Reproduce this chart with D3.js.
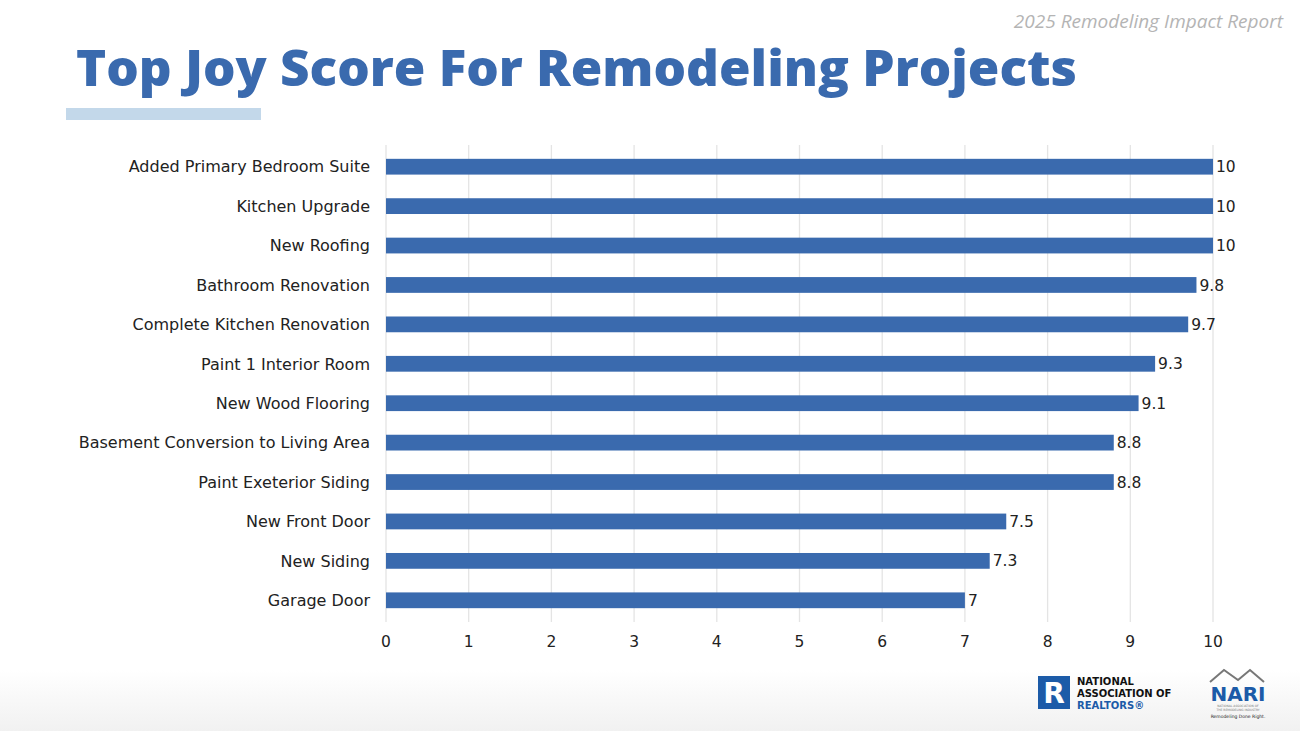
<!DOCTYPE html>
<html>
<head>
<meta charset="utf-8">
<script src="https://cdn.jsdelivr.net/npm/d3@7"></script>
<style>
  body { margin: 0; background: #fff; }
  svg { display: block; font-family: "DejaVu Sans", sans-serif; }
</style>
</head>
<body>
<svg id="chart" width="1300" height="731"></svg>
<script>
var projects = [
  "Added Primary Bedroom Suite",
  "Kitchen Upgrade",
  "New Roofing",
  "Bathroom Renovation",
  "Complete Kitchen Renovation",
  "Paint 1 Interior Room",
  "New Wood Flooring",
  "Basement Conversion to Living Area",
  "Paint Exeterior Siding",
  "New Front Door",
  "New Siding",
  "Garage Door"
];
var joyScores = [10, 10, 10, 9.8, 9.7, 9.3, 9.1, 8.8, 8.8, 7.5, 7.3, 7];
var xTicks = [0, 1, 2, 3, 4, 5, 6, 7, 8, 9, 10];

const barColor = "#3a6aae";
const svg = d3.select("#chart");

// light grey fade at the bottom of the slide
var defs = svg.append("defs");
var fade = defs.append("linearGradient").attr("id", "fade").attr("x1", 0).attr("y1", 0).attr("x2", 0).attr("y2", 1);
fade.append("stop").attr("offset", "0%").attr("stop-color", "#ffffff");
fade.append("stop").attr("offset", "100%").attr("stop-color", "#f1f1f1");
svg.append("rect").attr("x", 0).attr("y", 670).attr("width", 1300).attr("height", 61).style("fill", "url(#fade)");

// header
svg.append("text")
  .attr("x", 1283).attr("y", 28)
  .attr("text-anchor", "end")
  .style("font-family", "'Open Sans', sans-serif")
  .style("font-size", "19px").style("font-style", "italic").style("fill", "#b4b4b4")
  .text("2025 Remodeling Impact Report");

svg.append("text")
  .attr("x", 76).attr("y", 86)
  .attr("textLength", 1001).attr("lengthAdjust", "spacingAndGlyphs")
  .style("font-family", "'Open Sans', sans-serif")
  .style("font-size", "50px").style("font-weight", 800).style("fill", "#3a6aae")
  .text("Top Joy Score For Remodeling Projects");

svg.append("rect").attr("x", 66).attr("y", 108).attr("width", 195).attr("height", 12).style("fill", "#c3d8ea");

// scales
const x = d3.scaleLinear().domain([0, 10]).range([386, 1213]);
const y = d3.scaleBand().domain(projects).range([147, 620]).paddingInner(0.6).paddingOuter(0.3);

// gridlines
svg.append("g")
  .selectAll("line")
  .data(xTicks)
  .enter().append("line")
  .attr("x1", d => x(d)).attr("x2", d => x(d))
  .attr("y1", 145).attr("y2", 622)
  .style("stroke", "#e4e4e4").style("stroke-width", 1.3);

// bars
svg.append("g")
  .selectAll("rect")
  .data(projects)
  .enter().append("rect")
  .attr("x", x(0))
  .attr("y", d => y(d))
  .attr("width", (d, i) => x(joyScores[i]) - x(0))
  .attr("height", y.bandwidth())
  .style("fill", barColor);

// value labels
svg.append("g")
  .selectAll("text")
  .data(projects)
  .enter().append("text")
  .attr("x", (d, i) => x(joyScores[i]) + 3)
  .attr("y", d => y(d) + y.bandwidth() / 2)
  .attr("dy", "0.36em")
  .style("font-size", "15.5px").style("fill", "#222")
  .text((d, i) => joyScores[i]);

// category labels
svg.append("g")
  .selectAll("text")
  .data(projects)
  .enter().append("text")
  .attr("x", 370)
  .attr("y", d => y(d) + y.bandwidth() / 2)
  .attr("dy", "0.36em")
  .attr("text-anchor", "end")
  .style("font-size", "16px").style("fill", "#222")
  .text(d => d);

// x axis tick labels
svg.append("g")
  .selectAll("text")
  .data(xTicks)
  .enter().append("text")
  .attr("x", d => x(d))
  .attr("y", 647)
  .attr("text-anchor", "middle")
  .style("font-size", "15.5px").style("fill", "#222")
  .text(d => d);

// logos
var nar = svg.append("g").attr("transform", "translate(1038,676)");
nar.append("rect").attr("width", 32).attr("height", 33).style("fill", "#1c5ba8");
nar.append("text").attr("x", 16).attr("y", 27).attr("text-anchor", "middle")
  .style("font-size", "28px").style("font-weight", 700).style("fill", "#fff").text("R");
nar.append("text").attr("x", 39).attr("y", 9).style("font-size", "10px").style("font-weight", 700).style("fill", "#111").text("NATIONAL");
nar.append("text").attr("x", 39).attr("y", 21).style("font-size", "10px").style("font-weight", 700).style("fill", "#111").text("ASSOCIATION OF");
nar.append("text").attr("x", 39).attr("y", 33).style("font-size", "10px").style("font-weight", 700).style("fill", "#1c5ba8").text("REALTORS®");

var nari = svg.append("g").attr("transform", "translate(1208,668)");
nari.append("path").attr("d", "M2,14 L16,2 L30,12 L42,2 L56,14").style("fill", "none").style("stroke", "#777").style("stroke-width", 2);
nari.append("text").attr("x", 30).attr("y", 33).attr("text-anchor", "middle")
  .style("font-size", "20px").style("font-weight", 700).style("fill", "#1c5ba8").text("NARI");
nari.append("text").attr("x", 30).attr("y", 39).attr("text-anchor", "middle").style("font-size", "3px").style("fill", "#777").text("NATIONAL ASSOCIATION OF");
nari.append("text").attr("x", 30).attr("y", 43).attr("text-anchor", "middle").style("font-size", "3px").style("fill", "#777").text("THE REMODELING INDUSTRY");
nari.append("text").attr("x", 30).attr("y", 50).attr("text-anchor", "middle").style("font-size", "4.5px").style("fill", "#222").text("Remodeling Done Right.");
</script>
</body>
</html>
